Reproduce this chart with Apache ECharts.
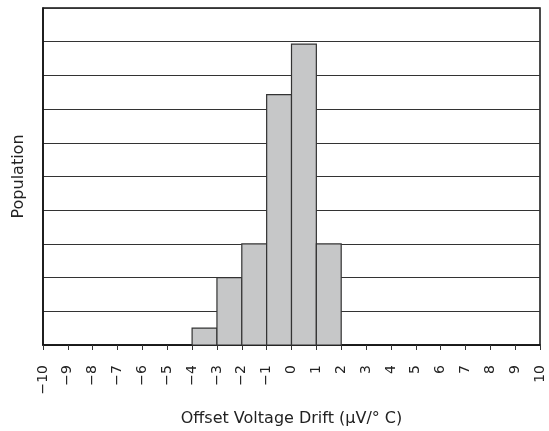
<!DOCTYPE html>
<html>
<head>
<meta charset="utf-8">
<script src="https://cdn.jsdelivr.net/npm/echarts@6/dist/echarts.min.js"></script>
<style>html,body{margin:0;padding:0;background:#fff}#c{width:549px;height:431px}</style>
</head>
<body>
<div id="c"></div>
<script>
// Histogram bins (start, end) and population heights
var binStarts = [-4, -3, -2, -1, 0, 1];
var binEnds   = [-3, -2, -1, 0, 1, 2];
var counts    = [0.5, 2, 3, 7.43, 8.93, 3];
var xTickValues = [-10,-9,-8,-7,-6,-5,-4,-3,-2,-1,0,1,2,3,4,5,6,7,8,9,10];
var xTitle = 'Offset Voltage Drift (\u00B5V/\u00B0 C)';
var yTitle = 'Population';

var data = binStarts.map(function (s, i) { return [s, binEnds[i], counts[i]]; });

var chart = echarts.init(document.getElementById('c'), null, {renderer: 'canvas'});
chart.setOption({
  animation: false,
  grid: {left: 43, right: 9, top: 8, bottom: 86, containLabel: false, outerBoundsMode: 'none',
    show: true, borderColor: '#111', borderWidth: 1.5, backgroundColor: 'transparent'},
  xAxis: {
    type: 'value', min: -10, max: 10, interval: 1,
    name: xTitle, nameLocation: 'middle', nameGap: 66,
    nameTextStyle: {fontFamily: 'DejaVu Sans', fontSize: 16, color: '#222'},
    axisLine: {show: true, onZero: false, lineStyle: {color: '#111', width: 1.5}},
    axisTick: {show: true, inside: false, length: 5, lineStyle: {color: '#333'}},
    axisLabel: {rotate: 90, margin: 20, fontFamily: 'DejaVu Sans', fontSize: 14, color: '#222',
      formatter: function (v) { return v < 0 ? '\u2212' + Math.abs(v) : String(v); }},
    splitLine: {show: false}
  },
  yAxis: {
    type: 'value', min: 0, max: 10, interval: 1,
    name: yTitle, nameLocation: 'middle', nameGap: 16,
    nameTextStyle: {fontFamily: 'DejaVu Sans', fontSize: 16, color: '#222'},
    axisLine: {show: true, onZero: false, lineStyle: {color: '#111', width: 1.5}},
    axisTick: {show: false},
    axisLabel: {show: false},
    splitLine: {show: true, lineStyle: {color: '#333', width: 1}}
  },
  series: [{
    type: 'custom',
    data: data,
    encode: {x: [0, 1], y: 2},
    renderItem: function (params, api) {
      var p0 = api.coord([api.value(0), api.value(2)]);
      var p1 = api.coord([api.value(1), 0]);
      return {
        type: 'rect',
        shape: {x: p0[0], y: p0[1], width: p1[0] - p0[0], height: p1[1] - p0[1]},
        style: {fill: '#c6c7c8', stroke: '#333', lineWidth: 1.2}
      };
    }
  }]
});
</script>
</body>
</html>
